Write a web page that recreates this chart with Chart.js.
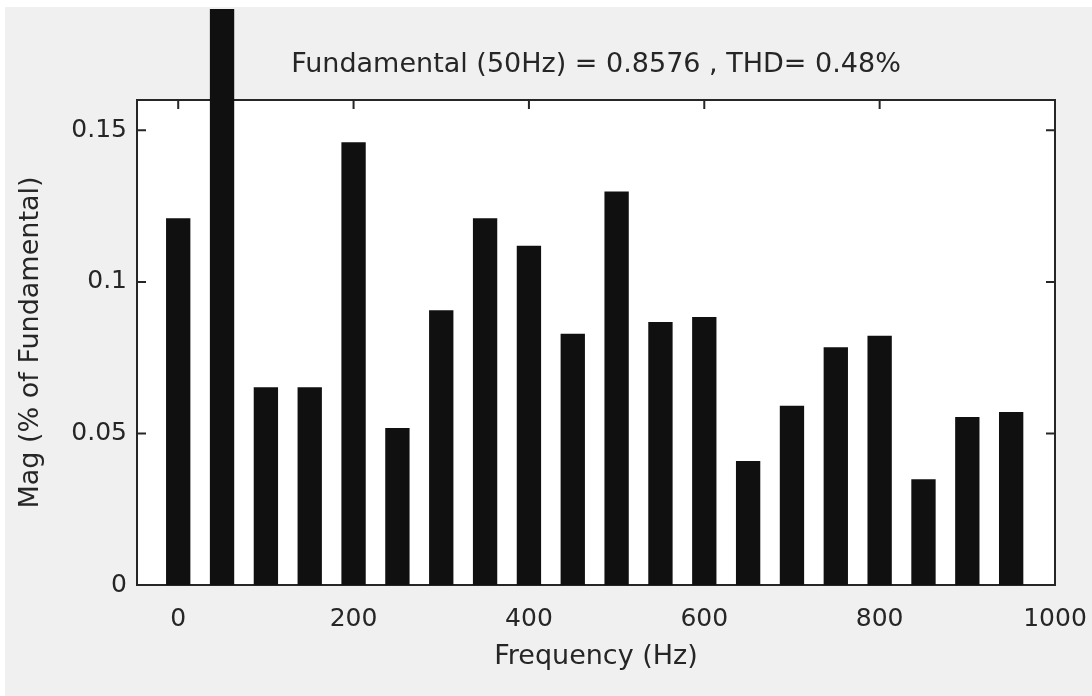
<!DOCTYPE html>
<html>
<head>
<meta charset="utf-8">
<script src="https://cdn.jsdelivr.net/npm/chart.js@4.4.1/dist/chart.umd.min.js"></script>
<style>
  html, body { margin: 0; padding: 0; background: #fff; }
  #wrap { width: 1092px; height: 696px; }
</style>
</head>
<body>
<div id="wrap"><canvas id="fft" width="1092" height="696"></canvas></div>
<script>
// harmonic spectrum
const freqs = [0, 50, 100, 150, 200, 250, 300, 350, 400, 450, 500, 550, 600, 650, 700, 750, 800, 850, 900, 950];
const mags = [0.121, 0.19, 0.0652, 0.0652, 0.1461, 0.0518, 0.0906, 0.121, 0.1119, 0.0829,
              0.1298, 0.0868, 0.0884, 0.0409, 0.0591, 0.0784, 0.0822, 0.0349, 0.0554, 0.0571];
const xTicks = [0, 200, 400, 600, 800, 1000];
const yTicks = [0, 0.05, 0.1, 0.15];
const yTickLabels = ['0', '0.05', '0.1', '0.15'];
const titleText = 'Fundamental (50Hz) = 0.8576 , THD= 0.48%';
const xLabel = 'Frequency (Hz)';
const yLabel = 'Mag (% of Fundamental)';

const FONT = 'DejaVu Sans';
const INK = '#262626';

// figure background, white axes, box with inward ticks (matlab look)
const axesBox = {
  id: 'axesBox',
  beforeDraw(chart) {
    const { ctx, width, height, chartArea: a } = chart;
    ctx.save();
    ctx.fillStyle = '#fff';
    ctx.fillRect(0, 0, width, height);
    ctx.fillStyle = '#f0f0f0';
    ctx.fillRect(5, 7, width - 5, height - 7);
    ctx.fillStyle = '#fff';
    ctx.fillRect(a.left, a.top, a.right - a.left, a.bottom - a.top);
    ctx.restore();
  },
  beforeDatasetsDraw(chart) {
    const { ctx, chartArea: a, scales } = chart;
    const len = 9;
    ctx.save();
    ctx.strokeStyle = INK;
    ctx.lineWidth = 2;
    ctx.strokeRect(a.left, a.top, a.right - a.left, a.bottom - a.top);
    ctx.beginPath();
    xTicks.forEach(v => {
      const x = scales.x.getPixelForValue(v);
      ctx.moveTo(x, a.bottom); ctx.lineTo(x, a.bottom - len);
      ctx.moveTo(x, a.top); ctx.lineTo(x, a.top + len);
    });
    yTicks.forEach(v => {
      const y = scales.y.getPixelForValue(v);
      ctx.moveTo(a.left, y); ctx.lineTo(a.left + len, y);
      ctx.moveTo(a.right, y); ctx.lineTo(a.right - len, y);
    });
    ctx.stroke();
    ctx.restore();
  }
};

new Chart(document.getElementById('fft'), {
  type: 'bar',
  data: {
    datasets: [{
      data: freqs.map((f, i) => ({ x: f, y: mags[i] })),
      backgroundColor: '#101010',
      borderColor: '#101010',
      borderWidth: 0,
      categoryPercentage: 1,
      barPercentage: 0.555,
      clip: false
    }]
  },
  options: {
    responsive: false,
    animation: false,
    devicePixelRatio: 1,
    layout: { padding: { left: 0, right: 37, top: 0, bottom: 0 } },
    plugins: {
      legend: { display: false },
      tooltip: { enabled: false },
      title: {
        display: true,
        text: titleText,
        fullSize: false,
        color: INK,
        font: { family: FONT, size: 27, weight: 'normal', lineHeight: 1.2 },
        padding: { top: 49, bottom: 18.6 }
      }
    },
    scales: {
      x: {
        type: 'linear',
        offset: false,
        min: -47,
        max: 1000,
        grid: { display: false, drawTicks: false, offset: false },
        border: { display: false },
        afterBuildTicks: s => { s.ticks = xTicks.map(v => ({ value: v })); },
        afterFit: s => { s.height = 111; s.paddingLeft = 0; s.paddingRight = 0; },
        ticks: {
          color: INK,
          padding: 19,
          maxRotation: 0,
          autoSkip: false,
          font: { family: FONT, size: 25 },
          callback: v => String(v)
        },
        title: {
          display: true,
          text: xLabel,
          color: INK,
          font: { family: FONT, size: 27, lineHeight: 1.2 },
          padding: { top: 0, bottom: 23 }
        }
      },
      y: {
        min: 0,
        max: 0.16,
        grid: { display: false, drawTicks: false },
        border: { display: false },
        afterBuildTicks: s => { s.ticks = yTicks.map(v => ({ value: v })); },
        afterFit: s => { s.width = 137; s.paddingTop = 0; s.paddingBottom = 0; },
        ticks: {
          color: INK,
          padding: 10,
          autoSkip: false,
          font: { family: FONT, size: 25 },
          callback: v => yTickLabels[yTicks.indexOf(v)]
        },
        title: {
          display: true,
          text: yLabel,
          color: INK,
          font: { family: FONT, size: 27, lineHeight: 1.2 },
          padding: { top: 15, bottom: 0 }
        }
      }
    }
  },
  plugins: [axesBox]
});
</script>
</body>
</html>
